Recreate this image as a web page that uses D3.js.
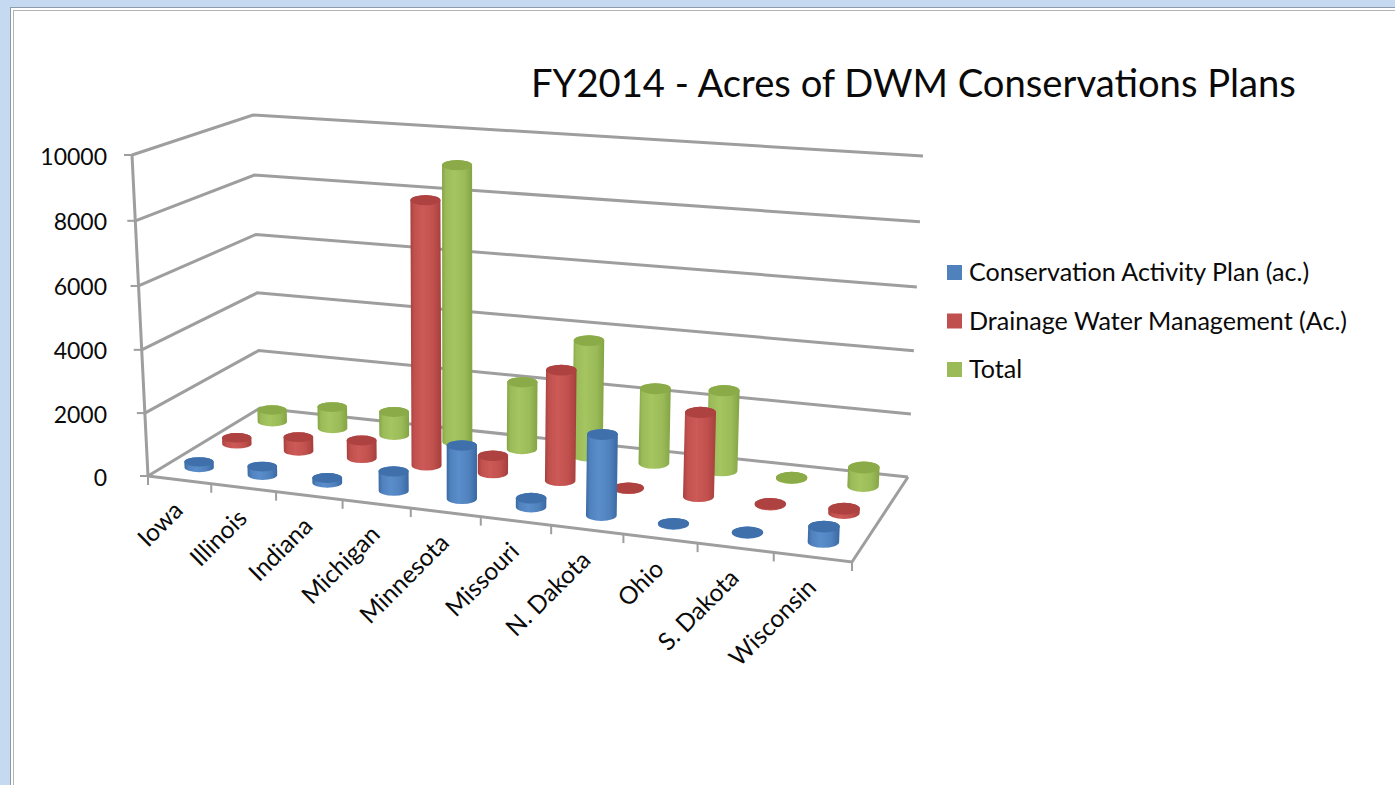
<!DOCTYPE html>
<html><head><meta charset="utf-8">
<script src="https://cdn.jsdelivr.net/npm/d3@7"></script>
<style>html,body{margin:0;padding:0;background:#fff;overflow:hidden}text{font-family:Lato,"Open Sans",sans-serif;fill:#0a0a0a}</style>
</head><body><svg id="c" width="1395" height="785"></svg>
<script>
const categories = ["Iowa","Illinois","Indiana","Michigan","Minnesota","Missouri","N. Dakota","Ohio","S. Dakota","Wisconsin"];
const seriesNames = ["Conservation Activity Plan (ac.)","Drainage Water Management (Ac.)","Total"];
const conservationPlan = [180,270,150,600,1650,270,2450,15,15,450];
const drainageWater = [200,450,570,8420,550,3490,15,2600,25,130];
const total = [400,720,770,9050,2200,3760,2410,2560,20,580];
const yTicks = [0,2000,4000,6000,8000,10000];
const colors = [
  {base:"#4F81BD",dark:"#3A68A2",light:"#5A8ECB",top:"#3F70AB"},
  {base:"#C0504D",dark:"#A53F3D",light:"#CC5A57",top:"#AE4240"},
  {base:"#9BBB59",dark:"#84A344",light:"#A4C55F",top:"#8AAB47"}];
const seriesValues = [conservationPlan,drainageWater,total];

const svg = d3.select("#c");
const defs = svg.append("defs");
const GRID = "#9e9e9e";

// Frame
svg.append("rect").attr("width",1395).attr("height",785).attr("fill","#C5D9F1");
svg.append("rect").attr("x",10).attr("y",7).attr("width",1400).attr("height",800).attr("fill","#8E9BA8");
svg.append("rect").attr("x",11).attr("y",8).attr("width",1400).attr("height",800).attr("fill","#fff");
svg.append("rect").attr("x",13).attr("y",10).attr("width",1400).attr("height",800).attr("fill","#B4B4B4");
svg.append("rect").attr("x",14).attr("y",11).attr("width",1400).attr("height",800).attr("fill","#fff");

// Projection: unit-square homography for floor and ceiling of the 3D box
function homography(q){ // q: FL, FR, BR, BL -> (u,v)
  const [p0,p1,p2,p3]=q;
  const dx1=p1[0]-p2[0],dx2=p3[0]-p2[0],sx=p0[0]-p1[0]+p2[0]-p3[0];
  const dy1=p1[1]-p2[1],dy2=p3[1]-p2[1],sy=p0[1]-p1[1]+p2[1]-p3[1];
  const d=dx1*dy2-dx2*dy1;
  const g=(sx*dy2-dx2*sy)/d,h=(dx1*sy-sx*dy1)/d;
  const a=p1[0]-p0[0]+g*p1[0],b=p3[0]-p0[0]+h*p3[0],c=p0[0];
  const e=p1[1]-p0[1]+g*p1[1],f=p3[1]-p0[1]+h*p3[1],i=p0[1];
  return (u,v)=>{const w=g*u+h*v+1;return [(a*u+b*v+c)/w,(e*u+f*v+i)/w];};
}
const floorH = homography([[148,476],[852,562],[908,477],[260,408]]);
const ceilH  = homography([[132,155],[878,205],[923,156],[253,115]]);
const yFrac = d3.scaleLinear().domain(yTicks).range([0,.196,.393,.592,.795,1]);
const uBand = d3.scaleBand().domain(categories).range([0,1]);
const vPoint = d3.scaleBand().domain(seriesNames).range([0,1]);
const uWarp = d3.scaleLinear().domain([0,.5,1]).range([0,.505,1]);
// vertical lean of a column, by floor x
const lean = d3.scaleLinear().domain([148,260,908]).range([-16,-7,15]);
function P(u,v,val){
  const w=uWarp(u);
  const a=floorH(w,v),b=ceilH(w,v),t=yFrac(val);
  return [a[0]+(b[0]-a[0])*t,a[1]+(b[1]-a[1])*t];
}
const line = d3.line();
const wall = svg.append("g").attr("fill","none").attr("stroke",GRID).attr("stroke-width",3);
yTicks.forEach(t=>{
  wall.append("path").attr("d",line([P(0,0,t),P(0,1,t),P(1,1,t)]));
});
wall.append("path").attr("d",line([P(0,0,0),P(0,0,10000)]));
wall.append("path").attr("d",line([P(0,0,0),P(1,0,0),P(1,1,0)]));
const ticks = svg.append("g").attr("stroke",GRID).attr("stroke-width",2);
yTicks.forEach(t=>{const p=P(0,0,t);ticks.append("line").attr("x1",p[0]-8).attr("x2",p[0]).attr("y1",p[1]).attr("y2",p[1]);});
d3.range(categories.length+1).forEach(i=>{const p=P(i/categories.length,0,0);ticks.append("line").attr("x1",p[0]).attr("x2",p[0]).attr("y1",p[1]).attr("y2",p[1]+9);});

// y labels
svg.append("g").selectAll("text").data(yTicks).join("text")
  .attr("x",107).attr("y",d=>P(0,0,d)[1]+9.5).attr("text-anchor","end")
  .style("font-size","23px").text(d=>d);
// x labels
svg.append("g").selectAll("text").data(categories).join("text")
  .attr("text-anchor","end").style("font-size","24.5px")
  .attr("transform",d=>{const p=P(uBand(d)+uBand.bandwidth()/2,0,0);return `translate(${p[0]+5},${p[1]+32}) rotate(-45)`;})
  .text(d=>d);

// Gradients
colors.forEach((c,i)=>{
  const g=defs.append("linearGradient").attr("id","g"+i);
  [[0,c.dark],[.12,c.base],[.4,c.light],[.75,c.base],[1,c.dark]].forEach(s=>g.append("stop").attr("offset",s[0]).attr("stop-color",s[1]));
});
defs.append("filter").attr("id","soft").append("feGaussianBlur").attr("stdDeviation",0.6);

// Cylinders: back row first
const marks = svg.append("g").attr("filter","url(#soft)");
[2,1,0].forEach(si=>{
  const name=seriesNames[si], v=vPoint(name)+vPoint.bandwidth()/2;
  categories.forEach((cat,ci)=>{
    const u=uBand(cat)+uBand.bandwidth()/2, val=seriesValues[si][ci];
    const b=P(u,v,0), p=P(u,v,val);
    const t=[b[0]+lean(b[0])*yFrac(val),p[1]];
    const rx=14.6+u*1.2, ry=rx*(0.32+0.06*u);
    const g=marks.append("g");
    g.append("path").attr("fill",`url(#g${si})`)
      .attr("d",`M${t[0]-rx},${t[1]}L${b[0]-rx},${b[1]}A${rx},${ry} 0 0 0 ${b[0]+rx},${b[1]}L${t[0]+rx},${t[1]}A${rx},${ry} 0 0 0 ${t[0]-rx},${t[1]}Z`);
    g.append("ellipse").attr("cx",t[0]).attr("cy",t[1]).attr("rx",rx).attr("ry",ry).attr("fill",colors[si].top);
  });
});

// Title
svg.append("text").attr("x",531).attr("y",97).style("font-size","38.2px").text("FY2014 - Acres of DWM Conservations Plans");

// Legend
const legendY = d3.scalePoint().domain(seriesNames).range([265,362]);
const lg = svg.append("g").selectAll("g").data(seriesNames).join("g").attr("transform",d=>`translate(947,${legendY(d)})`);
lg.append("rect").attr("width",15).attr("height",15).attr("fill",(d,i)=>colors[i].base);
lg.append("text").attr("x",22).attr("y",16).style("font-size","25.1px").text(d=>d);
</script></body></html>
